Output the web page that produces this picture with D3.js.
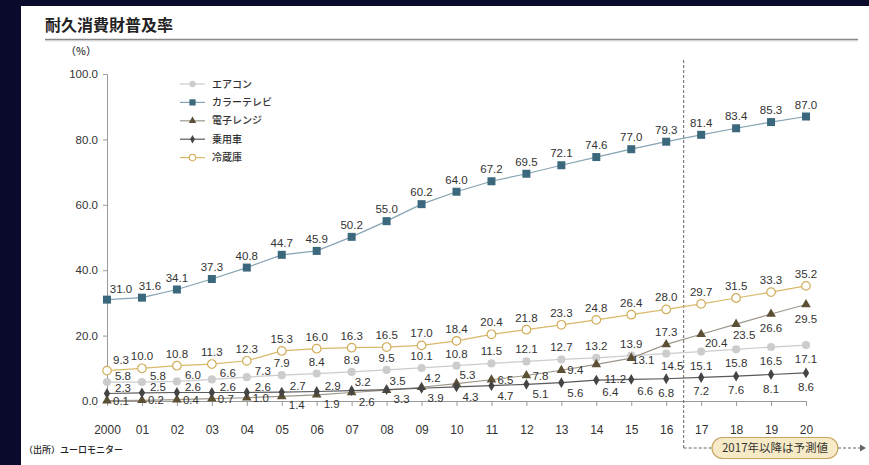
<!DOCTYPE html>
<html lang="ja">
<head>
<meta charset="utf-8">
<script src="https://cdn.jsdelivr.net/npm/d3@7"></script>
<style>
  html, body { margin: 0; padding: 0; background: #0a0a2c; }
  svg { display: block; }
  .num { font-family: "Liberation Sans", Arial, sans-serif; }
  .jp { font-family: "Noto Sans CJK JP", "Noto Sans", sans-serif; }
</style>
</head>
<body>
<svg id="chart" width="869" height="465"></svg>
<script>
// 耐久消費財普及率（%）2000〜2020年、2017年以降は予測値
const years = ["2000","01","02","03","04","05","06","07","08","09","10",
               "11","12","13","14","15","16","17","18","19","20"];
const yTicks = [0, 20, 40, 60, 80, 100];

const airconValues    = [5.8, 5.8, 6.0, 6.6, 7.3, 7.9, 8.4, 8.9, 9.5, 10.1, 10.8,
                         11.5, 12.1, 12.7, 13.2, 13.9, 14.5, 15.1, 15.8, 16.5, 17.1];
const colorTvValues   = [31.0, 31.6, 34.1, 37.3, 40.8, 44.7, 45.9, 50.2, 55.0, 60.2, 64.0,
                         67.2, 69.5, 72.1, 74.6, 77.0, 79.3, 81.4, 83.4, 85.3, 87.0];
const microwaveValues = [0.1, 0.2, 0.4, 0.7, 1.0, 1.4, 1.9, 2.6, 3.3, 4.2, 5.3,
                         6.5, 7.8, 9.4, 11.2, 13.1, 17.3, 20.4, 23.5, 26.6, 29.5];
const carValues       = [2.3, 2.5, 2.6, 2.6, 2.6, 2.7, 2.9, 3.2, 3.5, 3.9, 4.3,
                         4.7, 5.1, 5.6, 6.4, 6.6, 6.8, 7.2, 7.6, 8.1, 8.6];
const fridgeValues    = [9.3, 10.0, 10.8, 11.3, 12.3, 15.3, 16.0, 16.3, 16.5, 17.0, 18.4,
                         20.4, 21.8, 23.3, 24.8, 26.4, 28.0, 29.7, 31.5, 33.3, 35.2];
const seriesNames = ["エアコン", "カラーテレビ", "電子レンジ", "乗用車", "冷蔵庫"];
const forecastStart = "17";

// where each value label sits relative to its marker
const labelOffsets = {
  n: [0, -12], n2: [14, -11], n3: [8, -12], s: [0, 14], e: [14, 0], e2: [12, 2],
  ne: [16, -6], ne2: [11, -9], se: [15, 9], se2: [19, 15], se3: [8, 11], se4: [6, 12],
  se5: [14, 10], se6: [14, 12]
};
const airconPos    = ["ne","ne","ne","ne","ne","n","n","n","n","n","n","n","n","n","n","n","se4","s","s","s","s"];
const colorTvPos   = ["n2","n3","n","n","n","n","n","n","n","n","n","n","n","n","n","n","n","n","n","n","n"];
const microwavePos = ["e","e","e","e","e","se","se","se","se","ne2","ne2","e","e","e","se2","e2","n","se","se3","s","s"];
const carPos       = ["ne","ne","ne","ne","ne","ne","ne","ne2","ne2","se5","se5","se5","se5","se5","se6","se6","s","s","s","s","s"];
const fridgePos    = ["n2","n","n","n","n","n","n","n","n","n","n","n","n","n","n","n","n","n","n","n","n"];

const series = [
  { name: seriesNames[0], values: airconValues, pos: airconPos,
    line: "#cccccc", fill: "#cccccc", stroke: "none", symbol: d3.symbolCircle, size: 52 },
  { name: seriesNames[1], values: colorTvValues, pos: colorTvPos,
    line: "#86a3b3", fill: "#3b687d", stroke: "none", symbol: d3.symbolSquare, size: 64 },
  { name: seriesNames[2], values: microwaveValues, pos: microwavePos,
    line: "#9d968a", fill: "#5b5034", stroke: "none", symbol: d3.symbolTriangle, size: 40 },
  { name: seriesNames[3], values: carValues, pos: carPos,
    line: "#5a5a5a", fill: "#444444", stroke: "none", symbol: d3.symbolDiamond, size: 34 },
  { name: seriesNames[4], values: fridgeValues, pos: fridgePos,
    line: "#d8b968", fill: "#ffffff", stroke: "#d2ad5a", symbol: d3.symbolCircle, size: 58 }
];

const svg = d3.select("#chart");

// white panel
svg.append("rect").attr("x", 21).attr("y", 6).attr("width", 848).attr("height", 459).attr("fill", "#ffffff");

// title and rule
svg.append("text").attr("class", "jp").attr("x", 45).attr("y", 31)
  .attr("font-size", 16).attr("font-weight", 700).attr("fill", "#222").text("耐久消費財普及率");
svg.append("line").attr("x1", 45).attr("x2", 858).attr("y1", 39.5).attr("y2", 39.5)
  .attr("stroke", "#8a8a8a").attr("stroke-width", 1.4);
svg.append("line").attr("x1", 45).attr("x2", 858).attr("y1", 40.8).attr("y2", 40.8)
  .attr("stroke", "#cfcfcf").attr("stroke-width", 1);

const x = d3.scalePoint().domain(years).range([107, 806]);
const y = d3.scaleLinear().domain([0, 100]).range([401, 74]);

// unit
svg.append("text").attr("class", "jp").attr("x", 81).attr("y", 55).attr("text-anchor", "middle")
  .attr("font-size", 10.5).attr("font-weight", 500).attr("fill", "#333").text("（%）");

// y axis
const yAxis = svg.append("g").attr("transform", `translate(${x(years[0])},0)`)
  .call(d3.axisLeft(y).tickValues(yTicks).tickFormat(d3.format(".1f"))
        .tickSize(4).tickSizeOuter(0).tickPadding(5));
yAxis.select(".domain").attr("stroke", "#9a9a9a");
yAxis.selectAll(".tick line").attr("stroke", "#9a9a9a");
yAxis.selectAll("text").attr("class", "num").attr("font-size", 11.5).attr("fill", "#333");

// x axis
const xAxis = svg.append("g").attr("transform", `translate(0,${y(0)})`)
  .call(d3.axisBottom(x).tickSize(5).tickSizeOuter(0).tickPadding(19));
xAxis.select(".domain").attr("stroke", "#9a9a9a");
xAxis.selectAll(".tick line").attr("stroke", "#9a9a9a");
xAxis.selectAll("text").attr("class", "num").attr("font-size", 12).attr("fill", "#333");

// forecast divider
const divX = (x(forecastStart) + x(years[years.indexOf(forecastStart) - 1])) / 2;
const dash = "3,2";
svg.append("line").attr("x1", divX).attr("x2", divX).attr("y1", 60).attr("y2", 448)
  .attr("stroke", "#666").attr("stroke-dasharray", dash);
svg.append("line").attr("x1", divX).attr("x2", 712).attr("y1", 448).attr("y2", 448)
  .attr("stroke", "#666").attr("stroke-dasharray", dash);
svg.append("line").attr("x1", 838).attr("x2", 861).attr("y1", 448).attr("y2", 448)
  .attr("stroke", "#666").attr("stroke-dasharray", dash);
svg.append("path").attr("d", "M860,444.5L866,448L860,451.5Z").attr("fill", "#666");
svg.append("rect").attr("x", 712).attr("y", 437.5).attr("width", 126).attr("height", 21)
  .attr("rx", 10.5).attr("fill", "#f7eac6").attr("stroke", "#c6a464").attr("stroke-width", 1.2);
svg.append("text").attr("class", "jp").attr("x", 775).attr("y", 452).attr("text-anchor", "middle")
  .attr("font-size", 11.5).attr("fill", "#333").text("2017年以降は予測値");

// lines
const line = d3.line().x((d, i) => x(years[i])).y(d => y(d));
series.forEach(s => {
  svg.append("path").attr("d", line(s.values)).attr("fill", "none")
    .attr("stroke", s.line).attr("stroke-width", 1.2);
});

// markers
series.forEach(s => {
  const sym = d3.symbol().type(s.symbol).size(s.size);
  svg.append("g").selectAll("path").data(s.values).join("path")
    .attr("d", sym)
    .attr("transform", (d, i) => `translate(${x(years[i])},${y(d)})`)
    .attr("fill", s.fill).attr("stroke", s.stroke).attr("stroke-width", 1.2);
});

// value labels
series.forEach(s => {
  svg.append("g").selectAll("text").data(s.values).join("text")
    .attr("class", "num")
    .attr("x", (d, i) => x(years[i]) + labelOffsets[s.pos[i]][0])
    .attr("y", (d, i) => y(d) + labelOffsets[s.pos[i]][1])
    .attr("dy", "0.35em")
    .attr("text-anchor", "middle")
    .attr("font-size", 11.5).attr("fill", "#333")
    .text(d => d.toFixed(1));
});

// legend
const legend = svg.append("g");
series.forEach((s, i) => {
  const ly = 84 + i * 18.4;
  legend.append("line").attr("x1", 180).attr("x2", 205).attr("y1", ly).attr("y2", ly)
    .attr("stroke", s.line).attr("stroke-width", 1.2);
  legend.append("path").attr("d", d3.symbol().type(s.symbol).size(s.size * 0.6)())
    .attr("transform", `translate(192.5,${ly})`)
    .attr("fill", s.fill).attr("stroke", s.stroke).attr("stroke-width", 1.1);
  legend.append("text").attr("class", "jp").attr("x", 212).attr("y", ly).attr("dy", "0.36em")
    .attr("font-size", 10).attr("font-weight", 500).attr("fill", "#333").text(s.name);
});

// source note
svg.append("text").attr("class", "jp").attr("x", 24).attr("y", 453)
  .attr("font-size", 9).attr("font-weight", 500).attr("fill", "#222").text("（出所）ユーロモニター");
</script>
</body>
</html>
